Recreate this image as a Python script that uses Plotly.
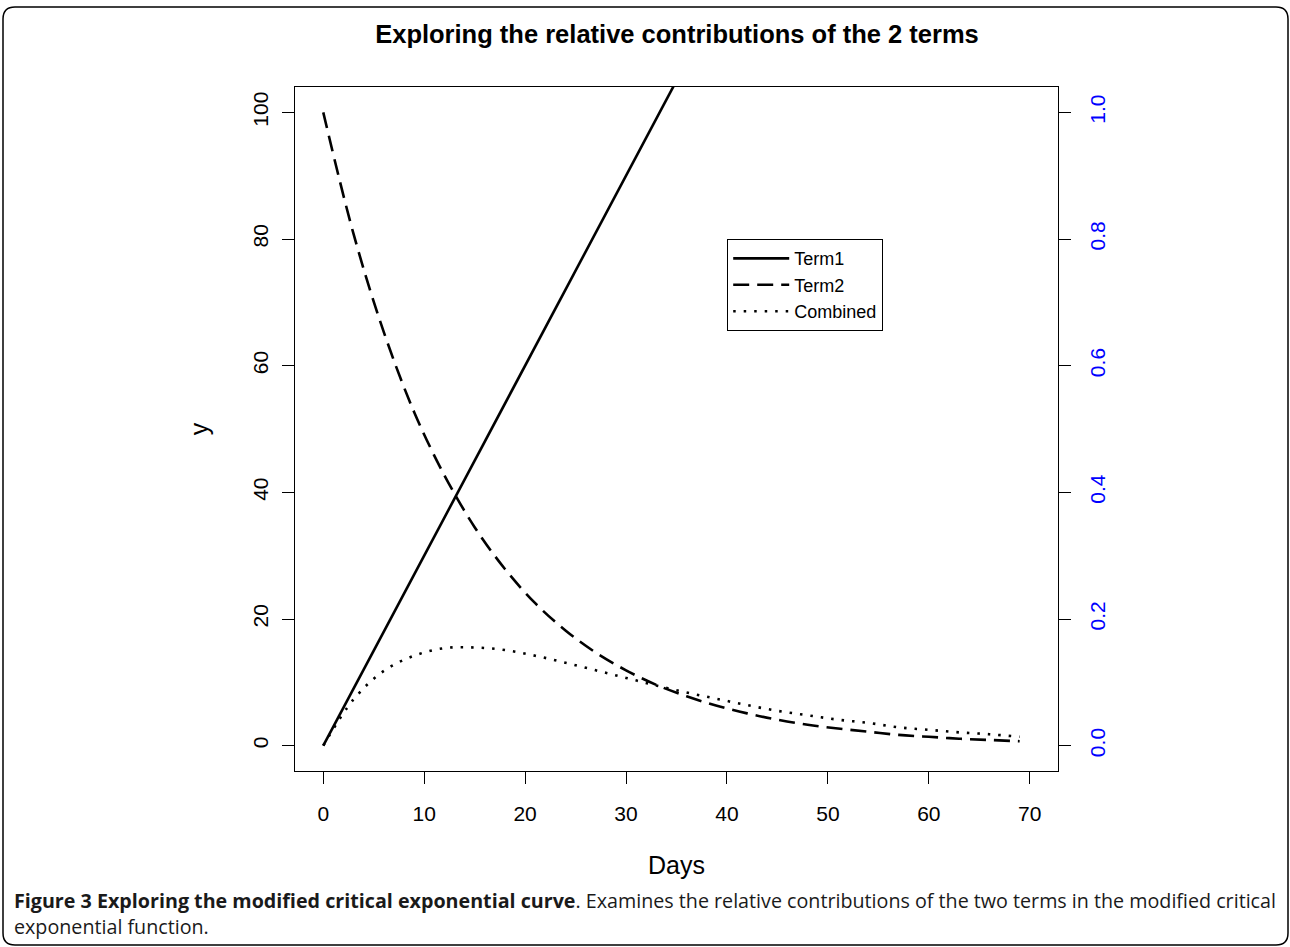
import plotly.graph_objects as go

# ---- data ----
days = [0, 3, 6, 9, 12, 15, 18, 21, 24, 27, 30, 33, 36, 39, 42, 45, 48, 51, 54, 57, 60, 63, 66, 69]
term1 = [0, 9, 18, 27, 36, 45, 54, 63, 72, 81, 90, 99, 108, 117, 126, 135, 144, 153, 162, 171, 180, 189, 198, 207]
term2 = [100, 80.8, 65.3, 52.7, 42.7, 34.5, 27.9, 22.5, 18.2, 14.7, 11.9, 9.6, 7.8, 6.3, 5.1, 4.1, 3.3, 2.7, 2.2, 1.7, 1.4, 1.1, 0.9, 0.7]
combined = [0, 7.3, 11.8, 14.2, 15.4, 15.5, 15.1, 14.2, 13.1, 11.9, 10.7, 9.5, 8.4, 7.4, 6.4, 5.5, 4.8, 4.1, 3.6, 2.9, 2.5, 2.1, 1.8, 1.4]

x_ticks = [0, 10, 20, 30, 40, 50, 60, 70]
y_ticks = [0, 20, 40, 60, 80, 100]
y2_ticks = [0.0, 0.2, 0.4, 0.6, 0.8, 1.0]

title = "Exploring the relative contributions of the 2 terms"
caption = ("<b>Figure 3 Exploring the modified critical exponential curve</b>. "
           "Examines the relative contributions of the two terms in the modified critical"
           "<br>exponential function.")

# ---- layout geometry (pixels) ----
W, H = 1290, 947
PL, PR, PT, PB = 295, 1058, 87, 771
pw, ph = PR - PL, PB - PT


def px(x):
    return (x - PL) / pw


def py(y):
    return (PB - y) / ph


fig = go.Figure()
fig.add_trace(go.Scatter(x=days, y=term1, mode="lines", name="Term1",
                         line=dict(color="black", width=2.6)))
fig.add_trace(go.Scatter(x=days, y=term2, mode="lines", name="Term2",
                         line=dict(color="black", width=2.6, dash="16px,8px", shape="spline")))
fig.add_trace(go.Scatter(x=days, y=combined, mode="lines", name="Combined",
                         line=dict(color="black", width=2.6, dash="2.5px,8px", shape="spline")))
# invisible trace to activate secondary axis
fig.add_trace(go.Scatter(x=[0], y=[0], yaxis="y2", mode="markers",
                         marker=dict(opacity=0), showlegend=False, hoverinfo="skip"))

axis_font = dict(family="Liberation Sans, Arial, sans-serif", size=21, color="black")

fig.update_layout(
    width=W, height=H,
    margin=dict(l=PL, r=W - PR, t=PT, b=H - PB),
    paper_bgcolor="white", plot_bgcolor="white",
    font=axis_font,
    title=dict(text="<b>" + title + "</b>", xref="container", x=677 / W, xanchor="center",
               y=1 - 34 / H, yanchor="middle",
               font=dict(family="Liberation Sans, Arial, sans-serif", size=25.5, color="black")),
    xaxis=dict(range=[-2.8, 72.8], tickvals=x_ticks, ticks="outside", ticklen=12,
               tickcolor="black", tickwidth=1.2, showline=True, linecolor="black", linewidth=1.2,
               mirror=True, showgrid=False, zeroline=False, ticklabelstandoff=12,
               title=dict(text="Days", standoff=32), tickfont=axis_font),
    yaxis=dict(range=[-4, 104], tickvals=y_ticks, ticks="outside", ticklen=12,
               tickcolor="black", tickwidth=1.2, showline=True, linecolor="black", linewidth=1.2,
               mirror=True, showgrid=False, zeroline=False, tickangle=-90, ticklabelstandoff=6,
               title=dict(text="y", standoff=32), tickfont=axis_font),
    yaxis2=dict(range=[-0.04, 1.04], tickvals=y2_ticks, tickformat=".1f", overlaying="y",
                side="right", ticks="outside", ticklen=12, tickcolor="black", tickwidth=1.2,
                showline=False, showgrid=False, zeroline=False, tickangle=-90, ticklabelstandoff=9,
                tickfont=dict(family="Liberation Sans, Arial, sans-serif", size=21, color="#0000FF")),
    legend=dict(x=px(727), y=py(239), xanchor="left", yanchor="top",
                bordercolor="black", borderwidth=1.2, bgcolor="white",
                font=dict(family="Liberation Sans, Arial, sans-serif", size=18, color="black"),
                tracegroupgap=0, itemwidth=56),
    showlegend=True,
)

# rounded frame around the whole figure
x0, x1, y0, y1, r = 3, 1288, 7, 945, 12
path = (f"M {px(x0 + r)},{py(y0)} L {px(x1 - r)},{py(y0)} Q {px(x1)},{py(y0)} {px(x1)},{py(y0 + r)} "
        f"L {px(x1)},{py(y1 - r)} Q {px(x1)},{py(y1)} {px(x1 - r)},{py(y1)} "
        f"L {px(x0 + r)},{py(y1)} Q {px(x0)},{py(y1)} {px(x0)},{py(y1 - r)} "
        f"L {px(x0)},{py(y0 + r)} Q {px(x0)},{py(y0)} {px(x0 + r)},{py(y0)} Z")
fig.add_shape(type="path", path=path, xref="paper", yref="paper",
              line=dict(color="black", width=1.5), fillcolor="rgba(0,0,0,0)", layer="below")

fig.add_annotation(text=caption, xref="paper", yref="paper", x=px(12), y=py(885),
                   xanchor="left", yanchor="top", align="left", showarrow=False,
                   font=dict(family="Open Sans, sans-serif", size=19.7, color="#1a1a1a"))

fig.write_html("out.html")
